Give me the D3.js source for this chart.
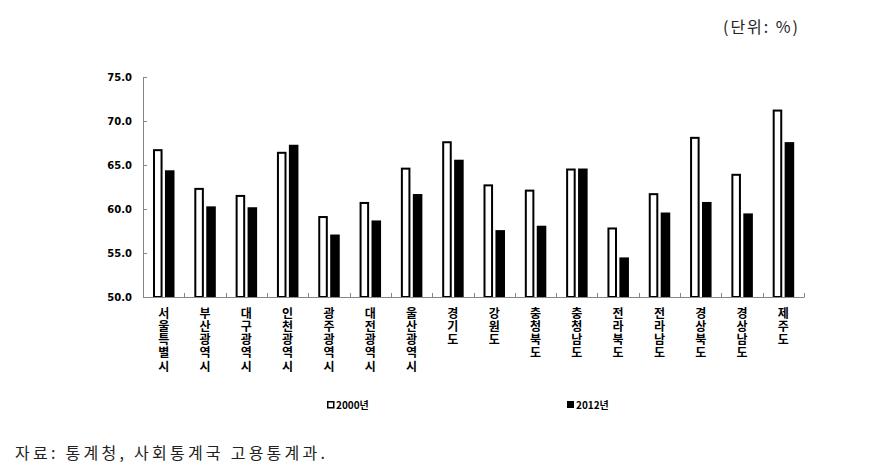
<!DOCTYPE html>
<html>
<head>
<meta charset="utf-8">
<title>지역별 고용률</title>
<script src="https://d3js.org/d3.v7.min.js"></script>
<style>
  body { margin: 0; background: #fff; }
  svg { display: block; }
  .xlab { writing-mode: vertical-rl; text-orientation: upright; }
</style>
</head>
<body>
<script>
// data
var regions = ["서울특별시", "부산광역시", "대구광역시", "인천광역시", "광주광역시", "대전광역시", "울산광역시", "경기도",
  "강원도", "충청북도", "충청남도", "전라북도", "전라남도", "경상북도", "경상남도", "제주도"];
var years = ["2000년", "2012년"];
var values2000 = [66.8, 62.4, 61.6, 66.5, 59.2, 60.8, 64.7, 67.7, 62.8, 62.2, 64.6, 57.9, 61.8, 68.2, 64.0, 71.3];
var values2012 = [64.4, 60.3, 60.2, 67.3, 57.1, 58.7, 61.7, 65.6, 57.6, 58.1, 64.6, 54.5, 59.6, 60.8, 59.5, 67.6];
var yTicks = [50, 55, 60, 65, 70, 75];

var W = 878, H = 473;
var svg = d3.select("body").append("svg").attr("width", W).attr("height", H);

var x = d3.scaleBand().domain(regions).range([143, 804]);
var sub = d3.scaleBand().domain(years).range([10, 31.5]).paddingInner(0.2);
var y = d3.scaleLinear().domain([50, 75]).range([297, 77]);

var axisColor = "#868686";

// bars
var groups = svg.selectAll("g.region").data(regions).enter().append("g")
  .attr("class", "region")
  .attr("transform", function(d) { return "translate(" + x(d) + ",0)"; });

groups.append("rect")
  .attr("x", sub(years[0]) + 1)
  .attr("width", sub.bandwidth() - 2)
  .attr("y", function(d, i) { return y(values2000[i]) + 1; })
  .attr("height", function(d, i) { return y(50) - y(values2000[i]) - 1; })
  .attr("fill", "#fff").attr("stroke", "#000").attr("stroke-width", 2);

groups.append("rect")
  .attr("x", sub(years[1]))
  .attr("width", sub.bandwidth())
  .attr("y", function(d, i) { return y(values2012[i]); })
  .attr("height", function(d, i) { return y(50) - y(values2012[i]); })
  .attr("fill", "#000");

// y axis
var yAxis = svg.append("g").attr("transform", "translate(143,0)")
  .call(d3.axisRight(y).tickValues(yTicks).tickSize(4).tickFormat(function(d) { return ""; }));
yAxis.selectAll("path, line").attr("stroke", axisColor);
yAxis.select(".domain").attr("d", "M0.5," + y(75) + "V" + y(50));

svg.selectAll("text.ylab").data(yTicks).enter().append("text")
  .attr("class", "ylab")
  .attr("x", 132).attr("y", function(d) { return y(d) + 4; })
  .attr("text-anchor", "end")
  .attr("font-family", "DejaVu Sans").attr("font-weight", "bold").attr("font-size", 10)
  .text(function(d) { return d3.format(".1f")(d); });

// x axis
var xAxis = svg.append("g").attr("transform", "translate(0," + y(50) + ")");
xAxis.append("line").attr("x1", 143).attr("x2", 804).attr("y1", 0.5).attr("y2", 0.5).attr("stroke", axisColor);
xAxis.selectAll("line.tick").data(regions).enter().append("line")
  .attr("class", "tick")
  .attr("x1", function(d) { return Math.round(x(d) + x.step()) + 0.5; })
  .attr("x2", function(d) { return Math.round(x(d) + x.step()) + 0.5; })
  .attr("y1", -4).attr("y2", 0.5).attr("stroke", axisColor);

// vertical category labels (one glyph per line)
svg.selectAll("text.xlab").data(regions).enter().append("text")
  .attr("class", "xlab")
  .attr("x", function(d) { return x(d) + x.bandwidth() / 2; })
  .attr("y", 307)
  .attr("font-family", "Noto Sans CJK KR").attr("font-weight", "bold").attr("font-size", 12)
  .attr("letter-spacing", 1.3)
  .text(function(d) { return d; });

// legend
var legendX = [327, 567];
var legend = svg.selectAll("g.legend").data(years).enter().append("g")
  .attr("class", "legend")
  .attr("transform", function(d, i) { return "translate(" + legendX[i] + ",401)"; });
legend.append("rect")
  .attr("x", function(d, i) { return i ? 0 : 0.75; })
  .attr("y", function(d, i) { return i ? 0 : 0.75; })
  .attr("width", function(d, i) { return i ? 7 : 6; })
  .attr("height", function(d, i) { return i ? 7 : 6; })
  .attr("fill", function(d, i) { return i ? "#000" : "#fff"; })
  .attr("stroke", "#000").attr("stroke-width", function(d, i) { return i ? 0 : 1.5; });
legend.append("text")
  .attr("x", 9).attr("y", 8)
  .attr("font-family", "Noto Sans CJK KR").attr("font-weight", "bold").attr("font-size", 10)
  .text(function(d) { return d; });

// unit and source
svg.append("text")
  .attr("x", 723).attr("y", 33)
  .attr("font-family", "Noto Sans CJK KR").attr("font-size", 16).attr("fill", "#222")
  .attr("textLength", 75).attr("lengthAdjust", "spacing")
  .text("(단위: %)");

svg.append("text")
  .attr("x", 15).attr("y", 459)
  .attr("font-family", "Noto Sans CJK KR").attr("font-size", 16).attr("fill", "#222")
  .attr("textLength", 310).attr("lengthAdjust", "spacing")
  .text("자료: 통계청, 사회통계국 고용통계과.");
</script>
</body>
</html>
